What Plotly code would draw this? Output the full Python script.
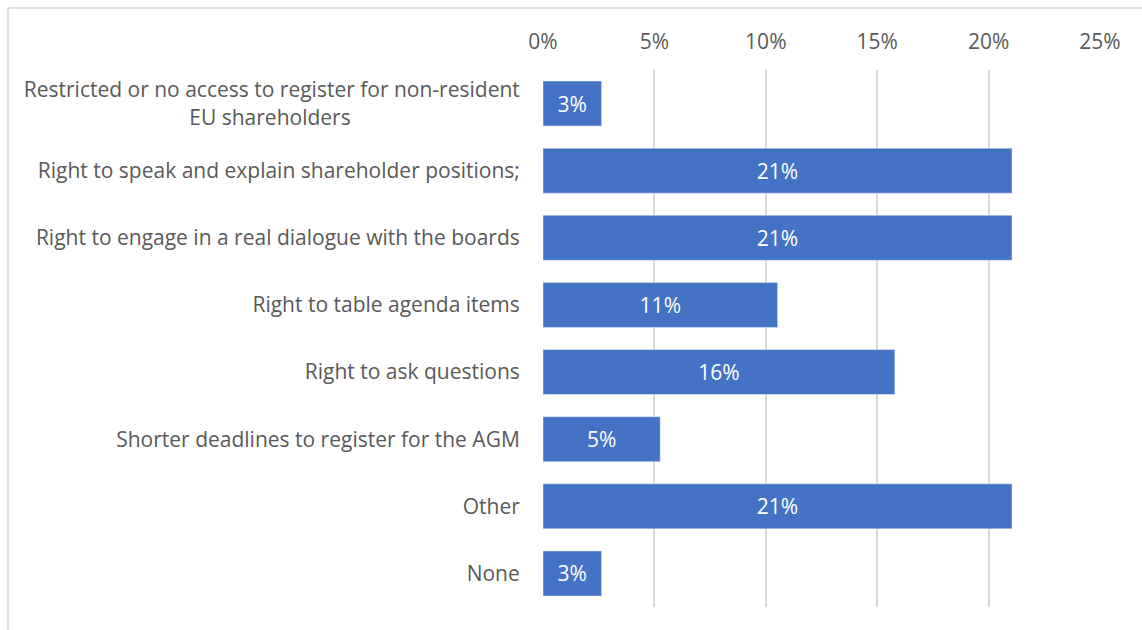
import plotly.graph_objects as go

NBSP = "\u00a0"

categories = [
    "Restricted or no access to register for non-resident<br>EU shareholders" + NBSP * 31,
    "Right to speak and explain shareholder positions;",
    "Right to engage in a real dialogue with the boards",
    "Right to table agenda items",
    "Right to ask questions",
    "Shorter deadlines to register for the AGM",
    "Other",
    "None",
]
shares = [0.0263, 0.2105, 0.2105, 0.1053, 0.1579, 0.0526, 0.2105, 0.0263]
x_ticks = [0, 0.05, 0.10, 0.15, 0.20, 0.25]

fig = go.Figure(go.Bar(
    y=categories,
    x=shares,
    orientation="h",
    marker=dict(color="#4472C4"),
    texttemplate="%{x:.0%}",
    textposition="inside",
    insidetextanchor="middle",
    textfont=dict(color="white", size=21),
    hoverinfo="skip",
))

fig.update_layout(
    width=1142,
    height=630,
    margin=dict(l=543, r=42, t=70, b=23),
    paper_bgcolor="white",
    plot_bgcolor="white",
    bargap=0.33,
    font=dict(family="Open Sans", size=20, color="#595959"),
    showlegend=False,
)
fig.update_xaxes(
    side="top",
    range=[0, 0.25],
    tickvals=x_ticks,
    tickformat=".0%",
    tickfont=dict(size=21),
    showgrid=True,
    gridcolor="#d9d9d9",
    gridwidth=1.5,
    zeroline=False,
    showline=False,
    ticks="outside",
    ticklen=12,
    tickcolor="rgba(0,0,0,0)",
)
fig.update_yaxes(
    autorange="reversed",
    tickfont=dict(size=21),
    showgrid=False,
    showline=False,
    ticks="outside",
    ticklen=18,
    tickcolor="rgba(0,0,0,0)",
)

# chart frame (left and top edges)
fig.add_shape(type="line", xref="paper", yref="paper",
              x0=-0.9605, x1=1.1, y0=1.1155, y1=1.1155,
              line=dict(color="#d9d9d9", width=1.5))
fig.add_shape(type="line", xref="paper", yref="paper",
              x0=-0.9605, x1=-0.9605, y0=1.1155, y1=-0.05,
              line=dict(color="#d9d9d9", width=1.5))

fig.write_html("out.html", config={"displayModeBar": False},
               post_script="document.body.style.margin='0';")
